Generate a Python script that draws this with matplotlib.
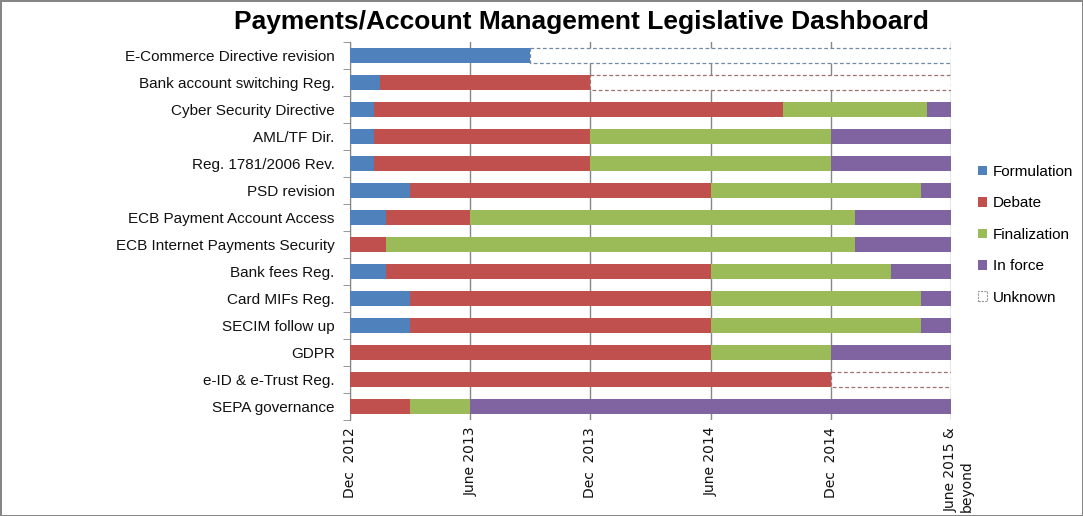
#!/usr/bin/env python3
"""Payments/Account Management Legislative Dashboard - stacked timeline bars."""
import matplotlib

matplotlib.use("Agg")
import matplotlib.pyplot as plt
import matplotlib.transforms as mtransforms
from matplotlib.patches import Patch
import numpy as np

# ---------- data (months since Dec 2012) ----------
ROWS = [
    "E-Commerce Directive revision",
    "Bank account switching Reg.",
    "Cyber Security Directive",
    "AML/TF Dir.",
    "Reg. 1781/2006 Rev.",
    "PSD revision",
    "ECB Payment Account Access",
    "ECB Internet Payments Security",
    "Bank fees Reg.",
    "Card MIFs Reg.",
    "SECIM follow up",
    "GDPR",
    "e-ID & e-Trust Reg.",
    "SEPA governance",
]
formulation = [9, 1.5, 1.2, 1.2, 1.2, 3, 1.8, 0, 1.8, 3, 3, 0, 0, 0]
debate = [0, 10.5, 20.4, 10.8, 10.8, 15, 4.2, 1.8, 16.2, 15, 15, 18, 24, 3]
finalization = [0, 0, 7.2, 12, 12, 10.5, 19.2, 23.4, 9, 10.5, 10.5, 6, 0, 3]
in_force = [0, 0, 1.2, 6, 6, 1.5, 4.8, 4.8, 3, 1.5, 1.5, 6, 0, 24]
unknown = [21, 18, 0, 0, 0, 0, 0, 0, 0, 0, 0, 0, 6, 0]

XTICKS = [0, 6, 12, 18, 24, 30]
XLABELS = ["Dec  2012", "June 2013", "Dec  2013", "June 2014", "Dec  2014",
           "June 2015 &\nbeyond"]

COLORS = {
    "Formulation": "#4F81BD",
    "Debate": "#C0504D",
    "Finalization": "#9BBB59",
    "In force": "#8064A2",
}
GRID = "#868686"

fig = plt.figure(figsize=(10.83, 5.16), dpi=100)
fig.patch.set_edgecolor(GRID)
fig.patch.set_linewidth(2)
ax = fig.add_axes([350 / 1083, 96 / 516, 601 / 1083, 378 / 516])

y = np.arange(len(ROWS))
h = 0.52
left = np.zeros(len(ROWS))
for name, vals in [("Formulation", formulation), ("Debate", debate),
                   ("Finalization", finalization), ("In force", in_force)]:
    vals = np.array(vals, dtype=float)
    ax.barh(y, vals, h, left=left, color=COLORS[name], label=name, zorder=3,
            linewidth=0)
    left += vals

# unknown: dashed outlines, coloured after the preceding phase
unk = np.array(unknown, dtype=float)
edge = []
for i in range(len(ROWS)):
    if unk[i] == 0:
        edge.append("none")
    elif debate[i] > 0:
        edge.append("#A0706E")
    else:
        edge.append("#7089A8")
ax.barh(y, unk, h, left=left, color="white", edgecolor=edge,
        linestyle=(0, (3, 2)), linewidth=0.9, zorder=3)

ax.set_xlim(0, 30)
ax.set_ylim(len(ROWS) - 0.5, -0.5)

ax.set_xticks(XTICKS)
ax.set_xticklabels(XLABELS, rotation=90, va="top", ha="center",
                   multialignment="left", fontsize=10, color="#111111")
ax.tick_params(axis="x", length=0, pad=5)
# shift the two-line label so its first line sits on the tick
lab = ax.get_xticklabels()[-1]
lab.set_transform(lab.get_transform()
                  + mtransforms.ScaledTranslation(8 / 100, 0, fig.dpi_scale_trans))
ax.grid(axis="x", color=GRID, linewidth=1, zorder=0)

ax.set_yticks(y)
ax.set_yticklabels(ROWS, fontsize=11, family="Liberation Sans", color="#111111")
ax.tick_params(axis="y", which="major", length=0, pad=11)
ax.set_yticks(np.arange(-0.5, len(ROWS)), minor=True)
ax.tick_params(axis="y", which="minor", length=5, color=GRID, direction="out")

for s in ["top", "right", "bottom"]:
    ax.spines[s].set_visible(False)
ax.spines["left"].set_color(GRID)

fig.text(581 / 1083, 1 - 22 / 516,
         "Payments/Account Management Legislative Dashboard",
         ha="center", va="center", fontsize=19, fontweight="bold",
         family="Liberation Sans")

handles = [Patch(facecolor=c, label=n) for n, c in COLORS.items()]
handles.append(Patch(facecolor="white", edgecolor="#999999",
                     linestyle=(0, (2, 1)), linewidth=0.8, label="Unknown"))
fig.legend(handles=handles, loc="upper left",
           bbox_to_anchor=(978 / 1083, 1 - 165 / 516), frameon=False,
           borderpad=0, borderaxespad=0,
           handlelength=0.6, handleheight=0.6, handletextpad=0.35,
           labelspacing=1.14, prop={"family": "Liberation Sans", "size": 11})

fig.savefig("out.png", dpi=100)
